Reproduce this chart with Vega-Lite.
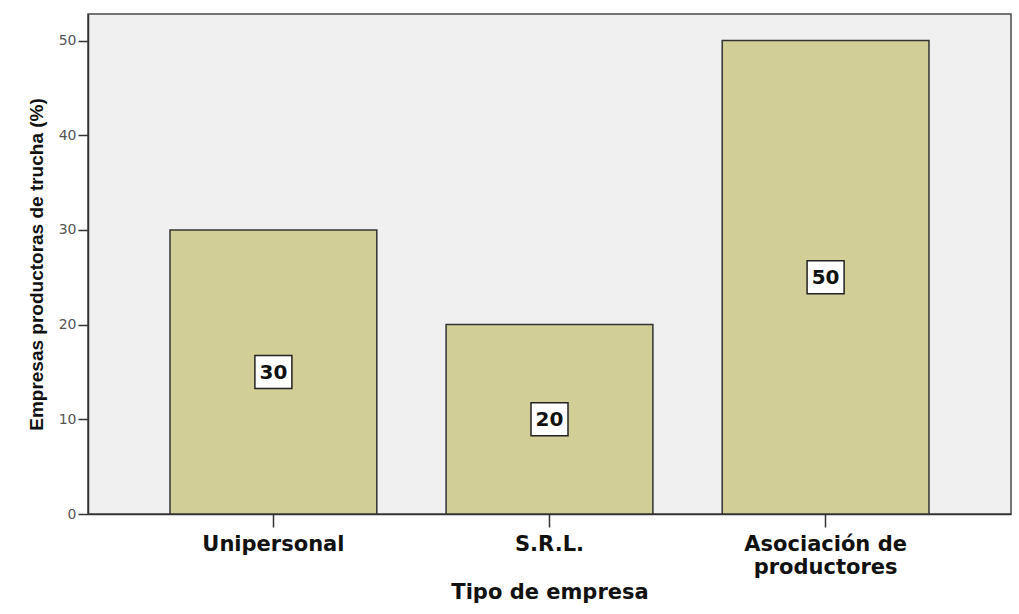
{
  "$schema": "https://vega.github.io/schema/vega-lite/v6.json",
  "width": 923,
  "height": 500,
  "autosize": {"type": "none"},
  "padding": {"left": 88, "top": 14, "right": 8, "bottom": 100},
  "background": "white",
  "config": {
    "view": {"fill": "#F0F0F0", "stroke": "#4a4a4a", "strokeWidth": 1.5},
    "font": "DejaVu Sans"
  },
  "data": {
    "values": [
      {"tipo": "Unipersonal", "pct": 30},
      {"tipo": "S.R.L.", "pct": 20},
      {"tipo": "Asociación de productores", "pct": 50}
    ]
  },
  "encoding": {
    "x": {
      "field": "tipo",
      "type": "nominal",
      "sort": null,
      "scale": {"paddingInner": 0.251, "paddingOuter": 0.297},
      "axis": {
        "title": "Tipo de empresa",
        "titleFont": "DejaVu Sans",
        "titleFontSize": 21,
        "titleFontWeight": "bold",
        "titleColor": "#111",
        "titlePadding": 4,
        "labelAngle": 0,
        "labelFont": "DejaVu Sans",
        "labelFontSize": 21,
        "labelFontWeight": "bold",
        "labelColor": "#111",
        "labelLineHeight": 23,
        "labelPadding": 6,
        "labelExpr": "datum.value == 'Asociación de productores' ? ['Asociación de', 'productores'] : datum.value",
        "tickSize": 13,
        "tickColor": "#333",
        "tickWidth": 1.5,
        "domainColor": "#333",
        "domainWidth": 1.5
      }
    },
    "y": {
      "field": "pct",
      "type": "quantitative",
      "scale": {"domain": [0, 52.8], "nice": false},
      "axis": {
        "title": "Empresas productoras de trucha (%)",
        "titleFont": "Liberation Sans",
        "titleFontSize": 19,
        "titleFontWeight": "bold",
        "titleColor": "#111",
        "titlePadding": 12,
        "values": [0, 10, 20, 30, 40, 50],
        "labelFont": "DejaVu Sans",
        "labelFontSize": 14,
        "labelColor": "#555",
        "labelPadding": 2,
        "tickSize": 10,
        "tickColor": "#333",
        "tickWidth": 1.5,
        "domainColor": "#333",
        "domainWidth": 1.5,
        "grid": false
      }
    }
  },
  "layer": [
    {
      "mark": {"type": "bar", "fill": "#D2CE97", "stroke": "#333", "strokeWidth": 1.5}
    },
    {
      "transform": [{"calculate": "datum.pct / 2", "as": "mid"}],
      "mark": {
        "type": "point",
        "shape": "M-1,-0.89L1,-0.89L1,0.89L-1,0.89Z",
        "size": 1369,
        "filled": true,
        "fill": "white",
        "stroke": "#222",
        "strokeWidth": 1.5,
        "opacity": 1
      },
      "encoding": {"y": {"field": "mid", "type": "quantitative"}}
    },
    {
      "transform": [{"calculate": "datum.pct / 2", "as": "mid"}],
      "mark": {
        "type": "text",
        "font": "DejaVu Sans",
        "fontSize": 20,
        "fontWeight": "bold",
        "color": "#111",
        "baseline": "middle",
        "align": "center",
        "dy": 1
      },
      "encoding": {
        "y": {"field": "mid", "type": "quantitative"},
        "text": {"field": "pct", "type": "quantitative"}
      }
    }
  ]
}
